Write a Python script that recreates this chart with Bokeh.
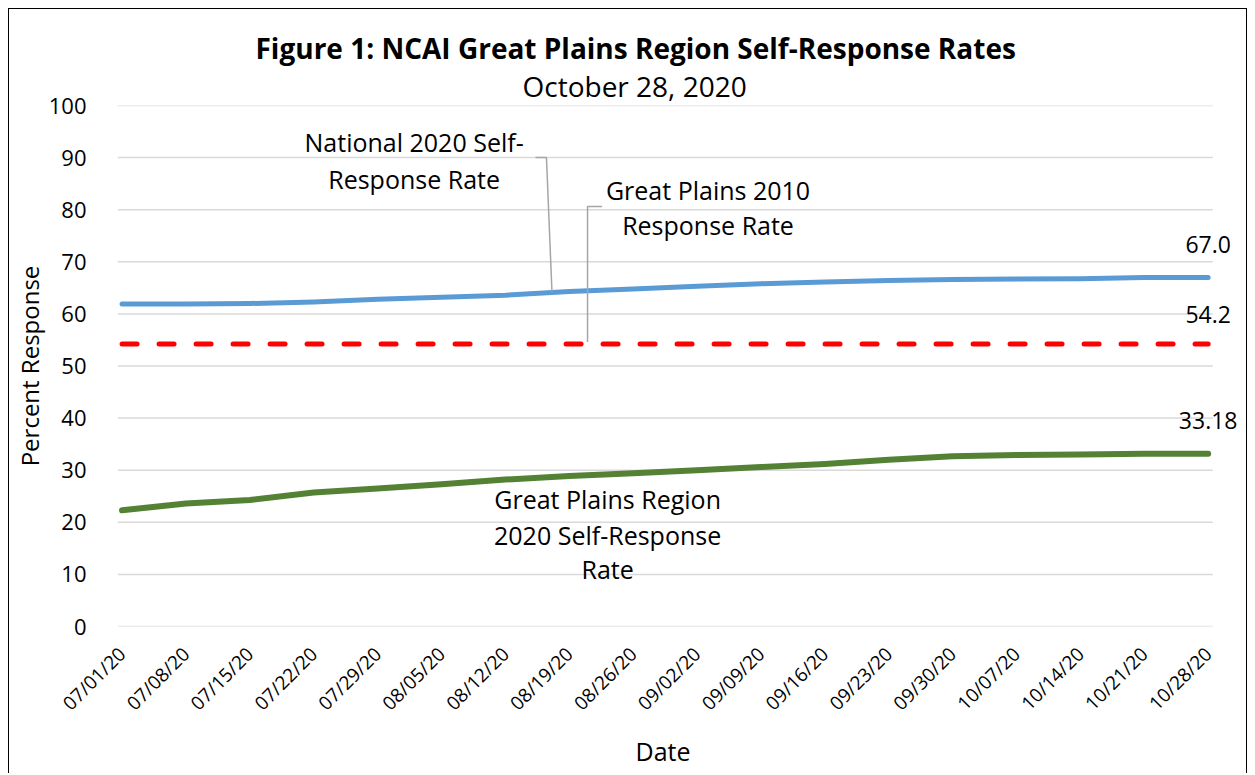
import datetime as dt
from bokeh.plotting import figure
from bokeh.models import Range1d, FixedTicker, DatetimeTickFormatter, Label, Title
from bokeh.embed import file_html
from bokeh.resources import INLINE
import math

# ---------------- data ----------------
start = dt.datetime(2020, 7, 1)
dates = [start + dt.timedelta(days=7 * k) for k in range(18)]   # 07/01/20 ... 10/28/20
national_2020 = [61.9, 61.9, 62.0, 62.3, 62.8, 63.2, 63.6, 64.3, 64.8, 65.3,
                 65.8, 66.1, 66.4, 66.6, 66.7, 66.75, 67.0, 67.0]
great_plains_2020 = [22.3, 23.6, 24.3, 25.7, 26.5, 27.3, 28.2, 28.9, 29.4, 30.0,
                     30.6, 31.2, 32.0, 32.7, 32.9, 33.0, 33.15, 33.18]
great_plains_2010 = 54.2
y_ticks = [0, 10, 20, 30, 40, 50, 60, 70, 80, 90, 100]

FONT = "Open Sans"


def day(d):
    return start + dt.timedelta(days=d)


W, H = 1239, 765
MB_L, MB_R, MB_T, MB_B = 98, 5, 96, 148
frame_w = W - MB_L - MB_R
px_per_day = 9.208
x_end = -0.5 + frame_w / px_per_day

p = figure(width=W, height=H, output_backend="svg", toolbar_location=None,
           x_axis_type="datetime",
           x_range=Range1d(day(-0.5), day(x_end)), y_range=Range1d(0, 100),
           min_border_left=MB_L, min_border_right=MB_R, min_border_top=MB_T,
           min_border_bottom=MB_B)
p.styles = {"border-left": "1.5px solid #000000", "border-top": "1.5px solid #000000",
            "border-right": "1.5px solid #000000", "margin-left": "8px",
            "margin-top": "8px"}
p.outline_line_color = None
p.background_fill_color = "white"

# titles (left-aligned with offsets so they centre over the whole chart box)
sub = Title(text="October 28, 2020", align="left", offset=405, text_font=FONT,
            text_font_size="28px", text_font_style="normal", text_color="#000000",
            standoff=2)
p.add_layout(sub, "above")
main = Title(text="Figure 1: NCAI Great Plains Region Self-Response Rates", align="left",
             offset=138, text_font=FONT, text_font_size="28px", text_font_style="bold",
             text_color="#000000", standoff=-6)
p.add_layout(main, "above")
date_title = Title(text="Date", align="left", offset=518, text_font=FONT,
                   text_font_size="25px", text_font_style="normal", text_color="#000000",
                   standoff=8, vertical_align="bottom")
p.add_layout(date_title, "below")

# grid (drawn as segments so the frame can extend for the end labels)
p.xgrid.grid_line_color = None
p.ygrid.grid_line_color = None
p.segment(x0=[day(-0.5)] * len(y_ticks), x1=[day(119.5)] * len(y_ticks),
          y0=y_ticks, y1=y_ticks, line_color="#D9D9D9", line_width=1.5)

# axes
p.yaxis.ticker = FixedTicker(ticks=y_ticks)
p.xaxis.ticker = FixedTicker(ticks=[d.timestamp() * 1000 for d in dates])
p.xaxis.formatter = DatetimeTickFormatter(days="%m/%d/%y", months="%m/%d/%y")
for ax in (p.xaxis, p.yaxis):
    ax.axis_line_color = None
    ax.major_tick_line_color = None
    ax.minor_tick_line_color = None
    ax.major_label_text_font = FONT
    ax.major_label_text_color = "#000000"
    ax.axis_label_text_font = FONT
    ax.axis_label_text_font_size = "24px"
    ax.axis_label_text_font_style = "normal"
    ax.axis_label_text_color = "#000000"
p.xaxis.major_label_text_font_size = "19px"
p.yaxis.major_label_text_font_size = "22px"
p.xaxis.major_label_orientation = math.pi / 4
p.yaxis.axis_label = "Percent Response"
p.yaxis.major_label_standoff = 25
p.yaxis.axis_label_standoff = 0
p.xaxis.major_label_standoff = 18

# series
p.line(dates, [great_plains_2010] * len(dates), line_color="#FF0000", line_width=5,
       line_dash="15 22", line_cap="round")
p.line(dates, national_2020, line_color="#5B9BD5", line_width=5, line_cap="round",
       line_join="round")
p.line(dates, great_plains_2020, line_color="#548235", line_width=6, line_cap="round",
       line_join="round")

# leader lines
p.line([day(45.3), day(46.5), day(47.1)], [90.0, 90.0, 64.3], line_color="#A6A6A6",
       line_width=1.5)
p.line([day(52.6), day(51.0), day(51.0)], [80.6, 80.6, 54.6], line_color="#A6A6A6",
       line_width=1.5)

# annotation texts
def lab(x, y, text):
    p.add_layout(Label(x=x, y=y, text=text, text_font=FONT, text_font_size="25px",
                       text_align="center", text_baseline="middle",
                       text_color="#000000"))

lab(day(32.0), 92.9, "National 2020 Self-")
lab(day(32.0), 85.8, "Response Rate")
lab(day(64.2), 83.7, "Great Plains 2010")
lab(day(64.2), 77.0, "Response Rate")
lab(day(53.2), 24.4, "Great Plains Region")
lab(day(53.2), 17.5, "2020 Self-Response")
lab(day(53.2), 11.1, "Rate")

# end value labels
def vlab(y, text, off):
    p.add_layout(Label(x=dates[-1], y=y, text=text, text_font=FONT, text_font_size="23px",
                       text_align="center", text_baseline="middle", y_offset=off,
                       text_color="#000000"))

vlab(national_2020[-1], f"{national_2020[-1]:.1f}", 33)
vlab(great_plains_2010, f"{great_plains_2010:.1f}", 30)
vlab(great_plains_2020[-1], f"{great_plains_2020[-1]:.2f}", 33)

open("out.html", "w").write(file_html(p, INLINE))
